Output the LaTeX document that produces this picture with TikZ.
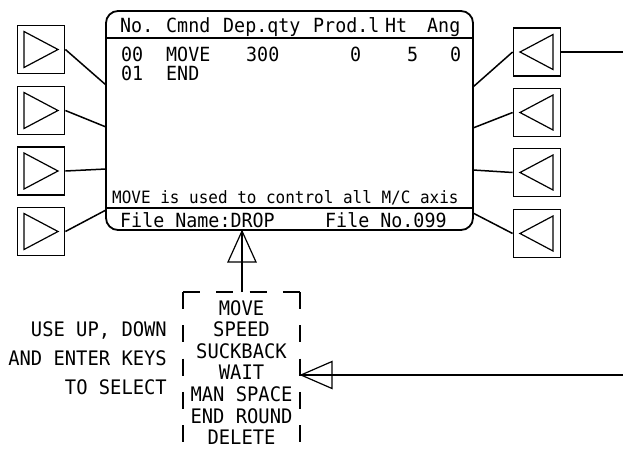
\documentclass[tikz,border=0pt]{standalone}
\usepackage{fontspec}
\setmainfont[FakeStretch=0.94]{DejaVu Sans Mono}
\usetikzlibrary{calc}

\begin{document}
\begin{tikzpicture}[x=1pt,y=-1pt,
		key/.style={draw, line width=1.8pt, minimum width=47pt, minimum height=48pt, inner sep=0pt},
		tri/.style={line width=1.2pt, line join=miter},
		wire/.style={line width=1.5pt},
		lcd/.style={anchor=base west, inner sep=0pt, font=\fontsize{19.5}{21}\selectfont},
		hint/.style={anchor=base west, inner sep=0pt, font=\fontsize{17}{19}\selectfont},
		note/.style={anchor=base east, inner sep=0pt, font=\fontsize{20}{22}\selectfont},
		menuitem/.style={anchor=base, inner sep=0pt, font=\fontsize{20}{22}\selectfont},
		gap/.style={line width=1.5pt, dash pattern=on 17pt off 16.3pt}]
		\useasboundingbox (0,0) rectangle (623,452);
		
		% screen
		\node[draw, line width=1.8pt, rounded corners=12pt, minimum width=367pt, minimum height=219pt, inner sep=0pt] (scr) at (289.5,120.5) {};
		\draw[wire] (106,38) -- (473,38);
		\draw[wire] (106,208) -- (473,208);
		
		\node[lcd] (hNo) at (120,33) {No.};
		\node[lcd] (hCmnd) at (166,33) {Cmnd};
		\node[lcd] (hDep) at (223,33) {Dep.qty};
		\node[lcd] (hProd) at (313,33) {Prod.l};
		\node[lcd] (hHt) at (385,33) {Ht};
		\node[lcd] (hAng) at (427,33) {Ang};
		
		\node[lcd] (rNo) at (121,62) {00};
		\node[lcd] (rCmnd) at (166,62) {MOVE};
		\node[lcd] (rDep) at (246,62) {300};
		\node[lcd] (rProd) at (350,62) {0};
		\node[lcd] (rHt) at (407,62) {5};
		\node[lcd] (rAng) at (450,62) {0};
		\node[lcd] (eNo) at (121,80) {01};
		\node[lcd] (eCmnd) at (166,80) {END};
		
		\node[hint] (help) at (112,203) {MOVE is used to control all M/C axis};
		\node[lcd] (fname) at (120,227) {File Name:DROP};
		\node[lcd] (fno) at (325,227) {File No.099};
		
		% soft keys left and right
		\foreach \i/\y/\s in {1/49.5/85,2/110.5/127,3/171/169,4/231.5/210} {
			\node[key] (kL\i) at (41,\y) {};
			\draw[tri, shift={(kL\i.center)}] (-17,-18) -- (17,0) -- (-17,18) -- cycle;
			\coordinate (sL\i) at (106,\s);
			\draw[wire] (kL\i.east) -- (sL\i);
		}
		\foreach \i/\y/\s in {1/52/87,2/112.5/128,3/172.5/170,4/233.5/213} {
			\node[key] (kR\i) at (537,\y) {};
			\draw[tri, shift={(kR\i.center)}] (16,-17.5) -- (-17,0) -- (16,17.5) -- cycle;
			\coordinate (sR\i) at (473,\s);
			\draw[wire] (kR\i.west) -- (sR\i);
		}
		\coordinate (outR1) at (623,52);
		\draw[wire] (kR1.east) -- (outR1);
		
		% pop-up menu
		\coordinate (mTL) at (183,292);
		\coordinate (mTR) at (300,292);
		\draw[gap] (mTL) -- (mTR);
		\draw[gap] (mTL) -- (183,452);
		\draw[gap] (mTR) -- (300,452);
		\foreach \t [count=\i] in {MOVE,SPEED,SUCKBACK,WAIT,MAN SPACE,END ROUND,DELETE}
			\node[menuitem] (m\i) at (241.5,{293.4+21.6*\i}) {\t};
		
		\node[note] (n1) at (167,336) {USE UP, DOWN};
		\node[note] (n2) at (167,365) {AND ENTER KEYS};
		\node[note] (n3) at (167,394) {TO SELECT};
		
		% arrows
		\coordinate (upTip) at (242,231);
		\coordinate (mTop) at (242,292);
		\draw[wire] (mTop) -- (upTip);
		\draw[tri, shift={(upTip)}] (0,0) -- (-14,31) -- (14,31) -- cycle;
		
		\coordinate (inR) at (623,375);
		\coordinate (mRight) at (301,375);
		\draw[wire] (inR) -- (mRight);
		\draw[tri, shift={(mRight)}] (0,0) -- (31,-13.5) -- (31,13.5) -- cycle;
	\end{tikzpicture}
\end{document}
